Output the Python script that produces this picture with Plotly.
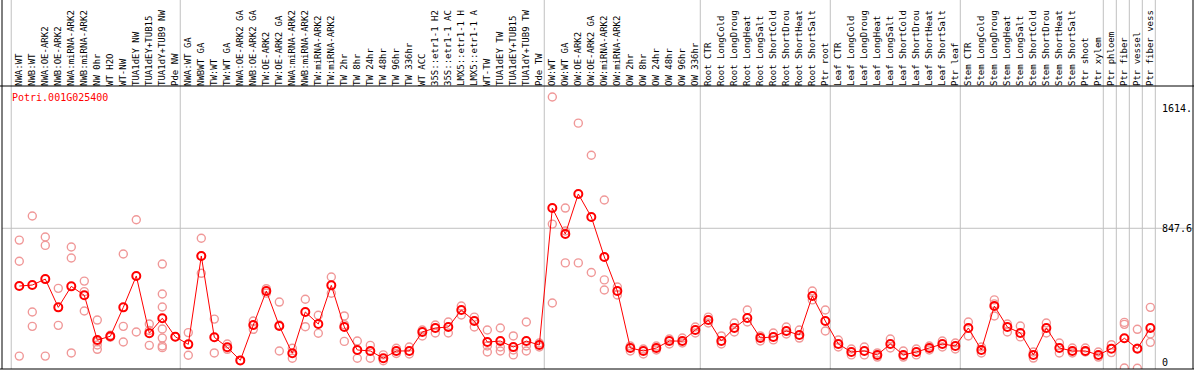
import plotly.graph_objects as go

gene = "Potri.001G025400"

samples = [
    "NWA:WT", "NWB:WT", "NWA:OE-ARK2", "NWB:OE-ARK2", "NWA:miRNA-ARK2", "NWB:miRNA-ARK2",
    "NW 0hr", "WT H2O", "WT-NW", "TUA1dEY NW", "TUA1dEY+TUB15", "TUA1dY+TUB9 NW", "Pde NW",
    "NWA:WT GA", "NWBWT GA", "TW:WT", "TW:WT GA", "NWA:OE-ARK2 GA", "NWB:OE-ARK2 GA",
    "TW:OE-ARK2", "TW:OE-ARK2 GA", "NWA:miRNA-ARK2", "NWB:miRNA-ARK2", "TW:miRNA-ARK2",
    "TW:miRNA-ARK2", "TW 2hr", "TW 8hr", "TW 24hr", "TW 48hr", "TW 96hr", "TW 336hr",
    "WT ACC", "35S::etr1-1 H2", "35S::etr1-1 AC", "LMX5::etr1-1 H", "LMX5::etr1-1 A",
    "WT-TW", "TUA1dEY TW", "TUA1dEY+TUB15", "TUA1dY+TUB9 TW", "Pde TW",
    "OW:WT", "OW:WT GA", "OW:OE-ARK2", "OW:OE-ARK2 GA", "OW:miRNA-ARK2", "OW:miRNA-ARK2",
    "OW 2hr", "OW 8hr", "OW 24hr", "OW 48hr", "OW 96hr", "OW 336hr",
    "Root CTR", "Root LongCold", "Root LongDroug", "Root LongHeat", "Root LongSalt",
    "Root ShortCold", "Root ShortDrou", "Root ShortHeat", "Root ShortSalt", "Ptr root",
    "Leaf CTR", "Leaf LongCold", "Leaf LongDroug", "Leaf LongHeat", "Leaf LongSalt",
    "Leaf ShortCold", "Leaf ShortDrou", "Leaf ShortHeat", "Leaf ShortSalt", "Ptr leaf",
    "Stem CTR", "Stem LongCold", "Stem LongDroug", "Stem LongHeat", "Stem LongSalt",
    "Stem ShortCold", "Stem ShortDrou", "Stem ShortHeat", "Stem ShortSalt", "Ptr shoot",
    "Ptr xylem", "Ptr phloem", "Ptr fiber", "Ptr vessel", "Ptr fiber vess",
]

groups = (["NW"] * 13 + ["TW"] * 28 + ["OW"] * 12 + ["Root"] * 10 + ["Leaf"] * 10
          + ["Stem"] * 11 + ["phloem", "fiber", "vessel", "fibervessel"])

mean_expr = [
    498, 504, 540, 369, 496, 442, 171, 194, 369, 559, 212, 303, 191,
    145, 680, 188, 127, 48, 262, 468, 256, 91, 341, 268, 502, 250, 111, 105, 61, 105,
    105, 220, 244, 250, 353, 286, 159, 165, 129, 165, 141,
    970, 813, 1055, 916, 674, 468, 123, 105, 123, 165, 165, 232,
    292, 165, 244, 305, 184, 190, 226, 202, 438, 286,
    147, 99, 105, 81, 147, 81, 99, 123, 147, 135,
    244, 111, 377, 250, 214, 81, 244, 123, 105, 105,
    81, 119, 182, 119, 244,
]

replicates = [
    [776, 648, 74], [922, 341, 254], [795, 744, 74], [484, 260], [734, 668, 93],
    [528, 464, 347], [292, 161, 141, 115], [200, 188], [692, 254, 159], [899, 220],
    [268, 139, 229], [631, 450, 371, 238, 183, 135, 125], [191],
    [216, 79], [787, 575, 680], [298, 93], [147, 115], [48], [286, 236], [482, 455],
    [401, 262, 105], [121, 61], [418, 252], [321, 212], [553, 454], [317, 264, 163],
    [165, 61], [139, 61], [81, 46], [121, 90],
    [129, 87], [232, 196], [262, 214], [280, 214], [377, 323], [310, 250],
    [232, 135, 99], [244, 129, 105], [196, 111, 81], [280, 135, 105], [153, 129],
    [1642, 873, 395], [970, 831, 638], [1484, 638], [1290, 580], [1019, 535, 474],
    [492, 444], [135, 105], [117, 87], [135, 111], [177, 147], [183, 153], [250, 214],
    [310, 274], [196, 147], [274, 220], [353, 280], [196, 165], [214, 172], [250, 208],
    [232, 183], [468, 414], [353, 226],
    [171, 129], [117, 81], [129, 81], [93, 68], [177, 123], [105, 68], [117, 81],
    [135, 111], [165, 129], [153, 117],
    [280, 196], [129, 93], [414, 390, 317], [268, 220], [256, 190], [99, 62], [274, 214],
    [153, 93], [123, 93], [123, 99],
    [99, 68], [143, 95], [278, 266, 2], [236, 121, 0], [369, 208, 157],
]

y_tick_mid = 847.6
y_tick_top = 1614
y_tick_zero = 0

# ---------------- layout constants ----------------
W, H = 1194, 370
ML, MR, MT, MB = 2, 1, 87, 1
PW = W - ML - MR
PH = H - MT - MB
n = len(samples)
xr = [-1.33, 90.28]
yr = [-4.2, 1702.8]
mono = "DejaVu Sans Mono"
grid_c = "#c0c0c0"
top_paper = 1 + MT / PH

fig = go.Figure()

rx, ry = [], []
for i, reps in enumerate(replicates):
    for v in reps:
        rx.append(i)
        ry.append(v)

# replicates (main y axis)
fig.add_trace(go.Scatter(
    x=rx, y=ry, mode="markers", yaxis="y",
    marker=dict(symbol="circle-open", size=8, color="#f09898", line=dict(width=1.4)),
    hoverinfo="skip", showlegend=False,
))
# mean line (overlay axis 2)
fig.add_trace(go.Scatter(
    x=list(range(n)), y=mean_expr, mode="lines", yaxis="y2",
    line=dict(color="#ff0000", width=1), hoverinfo="skip", showlegend=False,
))
# mean markers (overlay axis 3)
fig.add_trace(go.Scatter(
    x=list(range(n)), y=mean_expr, mode="markers", yaxis="y3",
    marker=dict(symbol="circle-open", size=8, color="#ff0000", line=dict(width=2)),
    showlegend=False,
))

# group separators
shapes = []
for i in range(n + 1):
    if i == 0 or i == n or groups[i] != groups[i - 1]:
        shapes.append(dict(type="line", xref="x", yref="paper", x0=i - 0.62, x1=i - 0.62,
                           y0=0, y1=top_paper, line=dict(color=grid_c, width=1), layer="below"))
shapes.append(dict(type="line", xref="paper", yref="y", x0=0, x1=1, y0=y_tick_mid, y1=y_tick_mid,
                   line=dict(color=grid_c, width=1), layer="below"))
# borders
blk = dict(color="black", width=1)
shapes += [
    dict(type="line", xref="paper", yref="paper", x0=0, x1=0, y0=0, y1=top_paper, line=blk),
    dict(type="line", xref="paper", yref="paper", x0=1, x1=1, y0=0, y1=top_paper, line=blk),
    dict(type="line", xref="paper", yref="paper", x0=-ML / PW, x1=1 + MR / PW, y0=0, y1=0, line=blk),
    dict(type="line", xref="paper", yref="paper", x0=-ML / PW, x1=1 + MR / PW,
         y0=1 + 1 / PH, y1=1 + 1 / PH, line=blk),
]

ypos = (1161 - ML) / PW
yax_common = dict(range=yr, showgrid=False, zeroline=False, showline=False, ticks="",
                  side="right", anchor="free", position=ypos, automargin=False,
                  tickfont=dict(family=mono, size=10, color="black"), fixedrange=True)

fig.update_layout(
    width=W, height=H,
    margin=dict(l=ML, r=MR, t=MT, b=MB, pad=0),
    paper_bgcolor="white", plot_bgcolor="white",
    showlegend=False,
    xaxis=dict(range=xr, side="top", tickmode="array", tickvals=list(range(n)), ticktext=samples,
               tickangle=-90, tickfont=dict(family=mono, size=9, color="black"),
               showgrid=False, zeroline=False, showline=False, ticks="", automargin=False,
               fixedrange=True),
    yaxis=dict(tickmode="array", tickvals=[y_tick_mid], ticktext=["847.6"], **yax_common),
    yaxis2=dict(tickmode="array", tickvals=[y_tick_zero], ticktext=["0"], overlaying="y",
                matches="y", ticklabelshift=-6, **yax_common),
    yaxis3=dict(tickmode="array", tickvals=[y_tick_top], ticktext=["1614."], overlaying="y",
                matches="y", ticklabelshift=7, **yax_common),
    shapes=shapes,
    annotations=[dict(text=gene, xref="paper", yref="paper", x=(10 - ML) / PW,
                      y=(H - MB - 97) / PH, xanchor="left", yanchor="middle", showarrow=False,
                      font=dict(family=mono, size=10, color="#ff0000"))],
)

fig.write_html("out.html", config={"displayModeBar": False})
with open("out.html", "r", encoding="utf-8") as f:
    html = f.read()
html = html.replace("<head>", "<head><style>html,body{margin:0;padding:0;overflow:hidden}</style>", 1)
with open("out.html", "w", encoding="utf-8") as f:
    f.write(html)
